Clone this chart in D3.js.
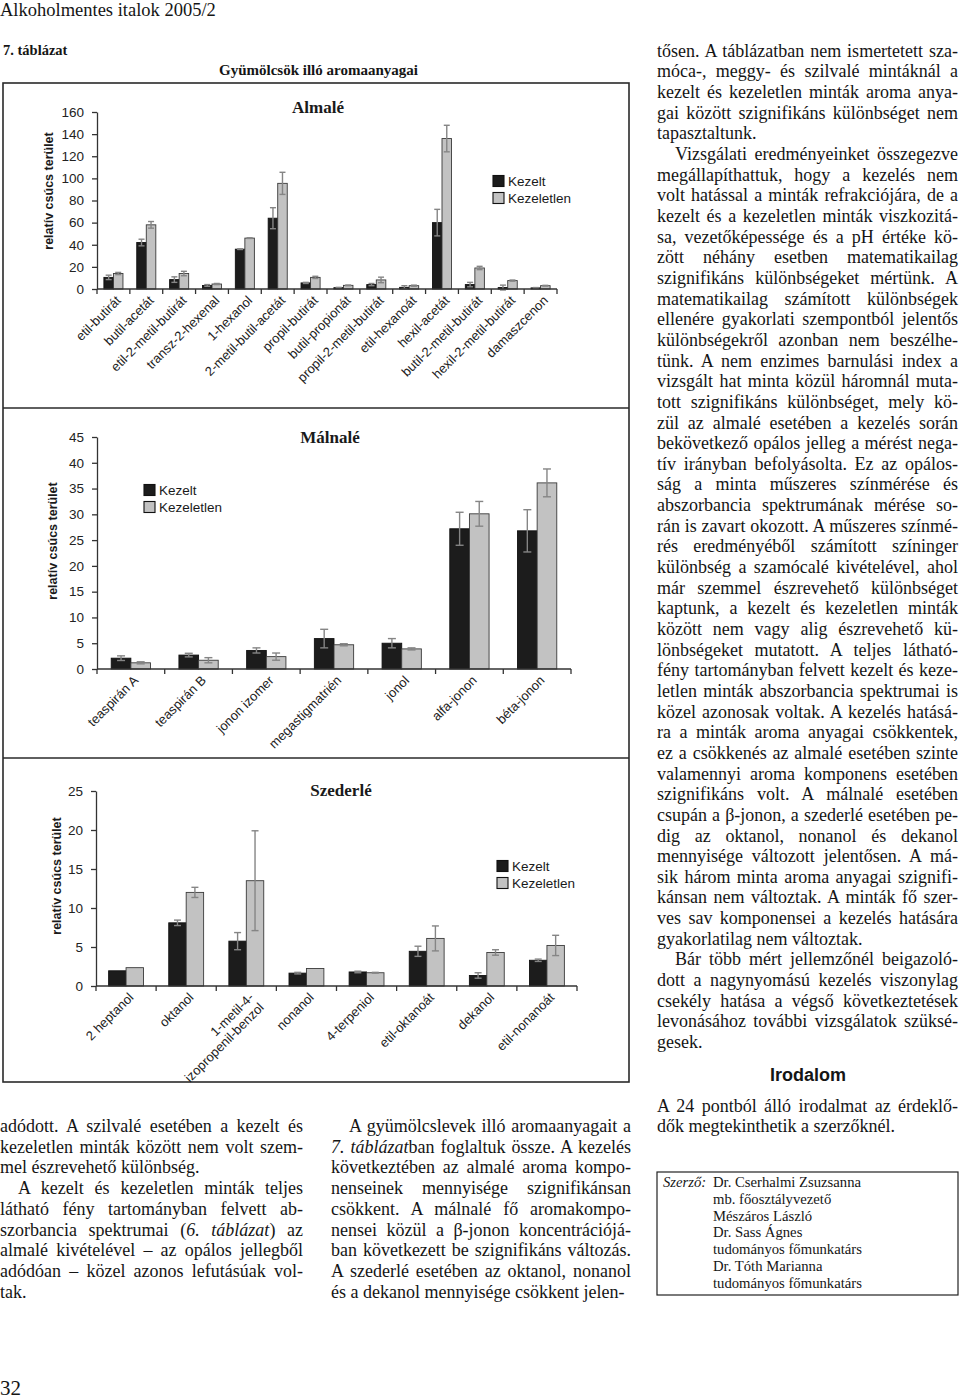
<!DOCTYPE html>
<html><head><meta charset="utf-8">
<script src="https://cdn.jsdelivr.net/npm/d3@7"></script>
<style>
body{margin:0;background:#fff;}
#page{position:relative;width:960px;height:1400px;overflow:hidden;font-family:"Liberation Serif","Times New Roman",serif;color:#151515;background:#fff;}
#page svg{position:absolute;left:0;top:0;}
.line{position:absolute;white-space:nowrap;}
</style></head><body><div id="page"></div>
<script>
// ---------------- DATA ----------------
const seriesNames = ["Kezelt", "Kezeletlen"];

const almaCategories = ["etil-butirát","butil-acetát","etil-2-metil-butirát","transz-2-hexenal","1-hexanol","2-metil-butil-acetát","propil-butirát","butil-propionát","propil-2-metil-butirát","etil-hexanoát","hexil-acetát","butil-2-metil-butirát","hexil-2-metil-butirát","damaszcenon"];
const almaKezelt      = [10.5, 42, 8.5, 3.2, 36, 64, 5.5, 1.2, 4, 1.5, 60, 4, 1.3, 1];
const almaKezeltErr   = [2, 3, 2.5, 0.8, 0.3, 9.5, 0.5, 0.3, 1, 1.5, 12, 2, 2.2, 0.3];
const almaKezeletlen  = [14, 58, 14, 4.5, 46, 95.5, 10.5, 3.3, 8.2, 3, 136, 19, 7.6, 3];
const almaKezeletlenErr = [1, 3, 2, 0.5, 0.3, 10, 1, 0.3, 2.5, 0.5, 12, 1.5, 0.5, 0.3];
const almaTicks = [0,20,40,60,80,100,120,140,160];

const malnaCategories = ["teaspirán A","teaspirán B","jonon izomer","megastigmatrién","jonol","alfa-jonon","béta-jonon"];
const malnaKezelt      = [2.1, 2.7, 3.6, 5.9, 5.0, 27.2, 26.8];
const malnaKezeltErr   = [0.45, 0.35, 0.5, 1.8, 0.9, 3.2, 4.1];
const malnaKezeletlen  = [1.2, 1.7, 2.4, 4.7, 3.9, 30.1, 36.1];
const malnaKezeletlenErr = [0.2, 0.5, 0.7, 0.2, 0.2, 2.4, 2.7];
const malnaTicks = [0,5,10,15,20,25,30,35,40,45];

const szederCategories = ["2 heptanol","oktanol","1-metil-4-|izopropenil-benzol","nonanol","4-terpeniol","etil-oktanoát","dekanol","etil-nonanoát"];
const szederKezelt      = [1.95, 8.1, 5.75, 1.65, 1.8, 4.45, 1.35, 3.3];
const szederKezeltErr   = [0, 0.35, 1.1, 0.1, 0.1, 0.65, 0.35, 0.15];
const szederKezeletlen  = [2.35, 12.0, 13.5, 2.25, 1.7, 6.1, 4.3, 5.2];
const szederKezeletlenErr = [0, 0.65, 6.4, 0, 0.05, 1.6, 0.35, 1.3];
const szederTicks = [0,5,10,15,20,25];

// text content
const rightColumn = [
"tősen. A táblázatban nem ismertetett sza-",
"móca-, meggy- és szilvalé mintáknál a",
"kezelt és kezeletlen minták aroma anya-",
"gai között szignifikáns különbséget nem",
"|tapasztaltunk.",
">Vizsgálati eredményeinket összegezve",
"megállapíthattuk, hogy a kezelés nem",
"volt hatással a minták refrakciójára, de a",
"kezelt és a kezeletlen minták viszkozitá-",
"sa, vezetőképessége és a pH értéke kö-",
"zött néhány esetben matematikailag",
"szignifikáns különbségeket mértünk. A",
"matematikailag számított különbségek",
"ellenére gyakorlati szempontból jelentős",
"különbségekről azonban nem beszélhe-",
"tünk. A nem enzimes barnulási index a",
"vizsgált hat minta közül háromnál muta-",
"tott szignifikáns különbséget, mely kö-",
"zül az almalé esetében a kezelés során",
"bekövetkező opálos jelleg a mérést nega-",
"tív irányban befolyásolta. Ez az opálos-",
"ság a minta műszeres színmérése és",
"abszorbancia spektrumának mérése so-",
"rán is zavart okozott. A műszeres színmé-",
"rés eredményéből számított színinger",
"különbség a szamócalé kivételével, ahol",
"már szemmel észrevehető különbséget",
"kaptunk, a kezelt és kezeletlen minták",
"között nem vagy alig észrevehető kü-",
"lönbségeket mutatott. A teljes látható-",
"fény tartományban felvett kezelt és keze-",
"letlen minták abszorbancia spektrumai is",
"közel azonosak voltak. A kezelés hatásá-",
"ra a minták aroma anyagai csökkentek,",
"ez a csökkenés az almalé esetében szinte",
"valamennyi aroma komponens esetében",
"szignifikáns volt. A málnalé esetében",
"csupán a β-jonon, a szederlé esetében pe-",
"dig az oktanol, nonanol és dekanol",
"mennyisége változott jelentősen. A má-",
"sik három minta aroma anyagai szignifi-",
"kánsan nem változtak. A minták fő szer-",
"ves sav komponensei a kezelés hatására",
"|gyakorlatilag nem változtak.",
">Bár több mért jellemzőnél beigazoló-",
"dott a nagynyomású kezelés viszonylag",
"csekély hatása a végső következtetések",
"levonásához további vizsgálatok szüksé-",
"|gesek."
];
const irodalomLines = [
"A 24 pontból álló irodalmat az érdeklő-",
"|dők megtekinthetik a szerzőknél."
];
const leftColumn = [
"adódott. A szilvalé esetében a kezelt és",
"kezeletlen minták között nem volt szem-",
"|mel észrevehető különbség.",
">A kezelt és kezeletlen minták teljes",
"látható fény tartományban felvett ab-",
"szorbancia spektrumai (<i>6. táblázat</i>) az",
"almalé kivételével – az opálos jellegből",
"adódóan – közel azonos lefutásúak vol-",
"|tak."
];
const midColumn = [
">A gyümölcslevek illó aromaanyagait a",
"<i>7. táblázat</i>ban foglaltuk össze. A kezelés",
"következtében az almalé aroma kompo-",
"nenseinek mennyisége szignifikánsan",
"csökkent. A málnalé fő aromakompo-",
"nensei közül a β-jonon koncentrációjá-",
"ban következett be szignifikáns változás.",
"A szederlé esetében az oktanol, nonanol",
"|és a dekanol mennyisége csökkent jelen-"
];
const authorLines = ["Dr. Cserhalmi Zsuzsanna","mb. főosztályvezető","Mészáros László","Dr. Sass Ágnes","tudományos főmunkatárs","Dr. Tóth Marianna","tudományos főmunkatárs"];

// ---------------- DRAW ----------------
const page = d3.select("#page");
const svg = page.append("svg").attr("width",960).attr("height",1400);

// frame
svg.append("rect").attr("x",3).attr("y",83).attr("width",626).attr("height",999)
  .attr("fill","none").attr("stroke","#2a2a2a").attr("stroke-width",1.6);
[408, 758].forEach(yy => svg.append("line").attr("x1",3).attr("x2",629).attr("y1",yy).attr("y2",yy)
  .attr("stroke","#2a2a2a").attr("stroke-width",1.4));

const sans = "'Liberation Sans', Arial, sans-serif";
const serif = "'Liberation Serif', 'Times New Roman', serif";

function drawPanel(cfg){
  const g = svg.append("g");
  const x = d3.scaleBand().domain(cfg.cats).range([cfg.x0, cfg.x1]).paddingInner(0.42).paddingOuter(0.21);
  const xs = d3.scaleBand().domain(seriesNames).range([0, x.bandwidth()]);
  const y = d3.scaleLinear().domain([0, cfg.max]).range([cfg.y0, cfg.yTop]);
  const rows = cfg.cats.map((c,i)=>({c, v:[cfg.k[i], cfg.kl[i]], e:[cfg.ke[i], cfg.kle[i]]}));

  // bars
  rows.forEach(r=>{
    seriesNames.forEach((s,j)=>{
      const bx = x(r.c) + xs(s);
      g.append("rect").attr("x",bx).attr("y",y(r.v[j])).attr("width",xs.bandwidth())
        .attr("height", y(0)-y(r.v[j]))
        .attr("fill", j===0 ? "#1c1c1c" : "#c2c2c2")
        .attr("stroke", j===0 ? "#111" : "#3a3a3a").attr("stroke-width",0.9);
    });
  });
  // error bars
  rows.forEach(r=>{
    seriesNames.forEach((s,j)=>{
      if (!r.e[j]) return;
      const cx = x(r.c) + xs(s) + xs.bandwidth()/2;
      const top = y(r.v[j]+r.e[j]), bot = y(r.v[j]-r.e[j]);
      const hw = cfg.cap/2;
      const col = "#858585";
      g.append("line").attr("x1",cx).attr("x2",cx).attr("y1",top).attr("y2",bot).attr("stroke",col).attr("stroke-width",1.4);
      g.append("line").attr("x1",cx-hw).attr("x2",cx+hw).attr("y1",top).attr("y2",top).attr("stroke",col).attr("stroke-width",1.4);
      g.append("line").attr("x1",cx-hw).attr("x2",cx+hw).attr("y1",bot).attr("y2",bot).attr("stroke",col).attr("stroke-width",1.4);
    });
  });

  // y axis
  const ya = g.append("g").attr("transform",`translate(${cfg.x0},0)`)
    .call(d3.axisLeft(y).tickValues(cfg.ticks).tickSize(5).tickSizeOuter(0).tickPadding(8).tickFormat(d3.format("d")));
  ya.selectAll("path,line").attr("stroke","#333").attr("stroke-width",1.3);
  ya.selectAll("text").attr("font-family",sans).attr("font-size",13.5).attr("fill","#222");

  // x axis line + boundary ticks
  g.append("line").attr("x1",cfg.x0).attr("x2",cfg.x1).attr("y1",y(0)).attr("y2",y(0)).attr("stroke","#333").attr("stroke-width",1.4);
  d3.range(cfg.cats.length+1).forEach(i=>{
    const tx = cfg.x0 + i*x.step();
    g.append("line").attr("x1",tx).attr("x2",tx).attr("y1",y(0)).attr("y2",y(0)+5).attr("stroke","#333").attr("stroke-width",1.3);
  });
  // x labels
  cfg.cats.forEach(c=>{
    const cx = x(c) + x.bandwidth()/2 + cfg.lx;
    const t = g.append("text").attr("transform",`translate(${cx},${y(0)+cfg.ly}) rotate(-45)`)
      .attr("text-anchor","end").attr("font-family",sans).attr("font-size",13).attr("fill","#222");
    c.split("|").forEach((part,k)=>{
      t.append("tspan").attr("x",0).attr("dy", k===0 ? "0.35em" : "1.1em").text(part);
    });
  });

  // y title
  g.append("text").attr("transform",`translate(${cfg.ytx},${cfg.yty}) rotate(-90)`)
    .attr("text-anchor","middle").attr("font-family",sans).attr("font-weight","bold")
    .attr("font-size",12.5).attr("fill","#1a1a1a").attr("dy","0.35em").text("relatív csúcs terület");

  // chart title
  g.append("text").attr("x",cfg.tx).attr("y",cfg.ty).attr("text-anchor","middle")
    .attr("font-family",serif).attr("font-weight","bold").attr("font-size",17).attr("fill","#1a1a1a").text(cfg.title);

  // legend
  seriesNames.forEach((s,j)=>{
    const ly = cfg.legY + j*17;
    g.append("rect").attr("x",cfg.legX).attr("y",ly-5.5).attr("width",11).attr("height",11)
      .attr("fill", j===0 ? "#1c1c1c" : "#c2c2c2").attr("stroke","#111").attr("stroke-width",1.1);
    g.append("text").attr("x",cfg.legX+15).attr("y",ly).attr("dy","0.35em")
      .attr("font-family",sans).attr("font-size",13.5).attr("fill","#1a1a1a").text(s);
  });
}

drawPanel({cats:almaCategories, k:almaKezelt, ke:almaKezeltErr, kl:almaKezeletlen, kle:almaKezeletlenErr,
  ticks:almaTicks, max:160, x0:97, x1:557, y0:289, yTop:112, cap:6, lx:5, ly:9,
  ytx:49, yty:191, title:"Almalé", tx:318, ty:113, legX:493, legY:181});
drawPanel({cats:malnaCategories, k:malnaKezelt, ke:malnaKezeltErr, kl:malnaKezeletlen, kle:malnaKezeletlenErr,
  ticks:malnaTicks, max:45, x0:97, x1:571, y0:669, yTop:437, cap:8, lx:5, ly:9,
  ytx:53, yty:541, title:"Málnalé", tx:330, ty:443, legX:144, legY:490});
drawPanel({cats:szederCategories, k:szederKezelt, ke:szederKezeltErr, kl:szederKezeletlen, kle:szederKezeletlenErr,
  ticks:szederTicks, max:25, x0:96, x1:577, y0:986, yTop:791, cap:7, lx:5, ly:9,
  ytx:57, yty:876, title:"Szederlé", tx:341, ty:796, legX:497, legY:866});

// ---------------- TEXT ----------------
function textLine(x, y, html, size, opts={}){
  return page.append("div").attr("class","line")
    .style("left",x+"px").style("top",y+"px").style("font-size",size+"px")
    .style("line-height",size+"px")
    .style("font-family", opts.family || serif)
    .style("font-weight", opts.weight || "normal")
    .style("font-style", opts.style || "normal")
    .html(html);
}
function column(lines, x, width, yc0, lh, size){
  lines.forEach((raw,i)=>{
    let s = raw, justify = true, indent = 0;
    if (s[0]==="|"){ justify=false; s=s.slice(1); }
    if (s[0]===">"){ indent=18; s=s.slice(1); }
    const d = textLine(x+indent, yc0 + i*lh - size*0.62, s, size);
    if (justify){
      const w = d.node().getBoundingClientRect().width;
      const plain = s.replace(/<[^>]+>/g,"");
      const n = (plain.match(/ /g)||[]).length;
      if (n>0) d.style("word-spacing", ((width-indent-w)/n)+"px");
    }
  });
}

textLine(0, 1, "Alkoholmentes italok 2005/2", 18.5);
textLine(3, 43, "7. táblázat", 14.5, {weight:"bold"});
textLine(219, 63, "Gyümölcsök illó aromaanyagai", 15, {weight:"bold"});

column(rightColumn, 657, 301, 53, 20.65, 18);
textLine(808, 1066, "Irodalom", 18, {family:sans, weight:"bold"}).style("transform","translateX(-50%)");
column(irodalomLines, 657, 301, 1108, 20.65, 18);
column(leftColumn, 0, 303, 1128, 20.75, 18);
column(midColumn, 331, 300, 1128, 20.75, 18);

// author box
svg.append("rect").attr("x",657).attr("y",1172).attr("width",301).attr("height",123)
  .attr("fill","none").attr("stroke","#222").attr("stroke-width",1.2);
textLine(663, 1175, "Szerző:", 14.7, {style:"italic"});
authorLines.forEach((t,i)=> textLine(713, 1175 + i*16.8, t, 14.7));

textLine(0, 1378, "32", 21);
</script>
</body></html>
